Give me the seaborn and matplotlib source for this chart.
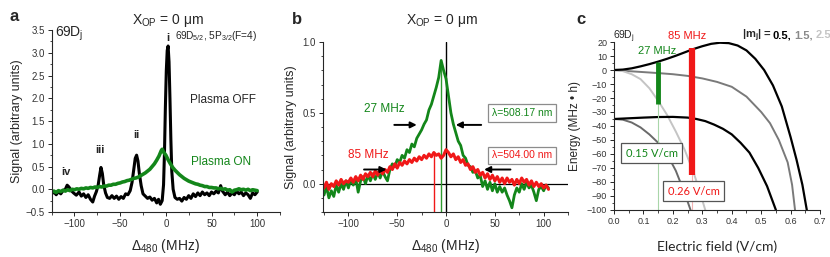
import numpy as np
import pandas as pd
import seaborn as sns
import matplotlib.pyplot as plt
from matplotlib.ticker import MultipleLocator

# ---- panel a: 69Dj spectrum, plasma off / on ----
a_off_x = [-125, -122.5, -120, -117.5, -115, -112.5, -110, -108, -106, -104, -101, -98, -95, -92.5, -90,
           -87.5, -85, -82.5, -80, -78, -76, -74, -72.5, -71, -69.5, -68, -66, -64, -61.5, -59, -56.5,
           -54, -51.5, -49, -46.5, -44, -41.5, -39, -37, -35, -33.5, -32, -30.5, -29, -27, -25, -22.5,
           -20, -17.5, -15, -12.5, -10, -8, -6, -4, -2.5, -1.5, -0.5, 0.5, 1.5, 2.5, 3.5, 4.5, 5.5, 6.5,
           8, 10, 12.5, 15, 17.5, 20, 22.5, 25, 27.5, 30, 32.5, 35, 37.5, 40, 42.5, 45, 47.5, 50, 52.5,
           55, 57.5, 60, 62, 65, 67.5, 70, 72.5, 75, 77.5, 80, 82.5, 85, 87.5, 90, 92.5, 95, 97.5, 100]
a_off_y = [-0.1, -0.06, -0.12, -0.05, -0.1, -0.03, 0.0, 0.09, 0.05, -0.02, -0.08, -0.13, -0.06, -0.15, -0.1,
           -0.18, -0.12, -0.22, -0.28, -0.15, -0.05, 0.1, 0.3, 0.48, 0.35, 0.1, -0.08, -0.18, -0.2, -0.14, -0.2,
           -0.15, -0.22, -0.16, -0.2, -0.1, -0.12, -0.03, 0.15, 0.45, 0.68, 0.75, 0.62, 0.35, 0.08, -0.1, -0.15,
           -0.2, -0.17, -0.24, -0.2, -0.3, -0.22, -0.33, -0.25, 0.1, 0.8, 1.8, 2.6, 3.05, 3.15, 2.8, 2.0, 1.1, 0.4,
           0.0, -0.18, -0.22, -0.2, -0.26, -0.18, -0.22, -0.14, -0.2, -0.1, -0.16, -0.08, -0.14, -0.06, -0.12,
           -0.08, -0.14, -0.06, -0.1, -0.04, -0.08, 0.08, -0.04, -0.12, -0.06, -0.14, -0.08, -0.12, -0.04, -0.1,
           -0.06, -0.14, -0.08, -0.12, -0.2, -0.08, -0.12, -0.06]

a_on_x = [-125, -122.5, -120, -117.5, -115, -112.5, -110, -107.5, -105, -102.5, -100, -97.5, -95, -92.5,
          -90, -87.5, -85, -82.5, -80, -77.5, -75, -72.5, -70, -67.5, -65, -62.5, -60, -57.5, -55, -52.5,
          -50, -47.5, -45, -42.5, -40, -37.5, -35, -32.5, -30, -27.5, -25, -22.5, -20, -17.5, -15, -12.5,
          -10, -7.5, -5, -4, -2.5, 0, 2.5, 5, 7.5, 10, 12.5, 15, 17.5, 20, 22.5, 25, 27.5, 30, 32.5, 35,
          37.5, 40, 42.5, 45, 47.5, 50, 52.5, 55, 57.5, 60, 62.5, 65, 67.5, 70, 72.5, 75, 77.5, 80, 82.5,
          85, 87.5, 90, 92.5, 95, 97.5, 100]
a_on_y = [-0.06, -0.04, -0.07, -0.03, -0.05, -0.02, -0.04, -0.01, -0.03, 0.0, -0.01, 0.01, 0.0, 0.02,
          0.01, 0.03, 0.02, 0.04, 0.03, 0.05, 0.04, 0.06, 0.05, 0.07, 0.07, 0.09, 0.09, 0.11, 0.11, 0.13,
          0.14, 0.16, 0.17, 0.19, 0.2, 0.22, 0.24, 0.25, 0.27, 0.3, 0.33, 0.36, 0.4, 0.44, 0.5, 0.56,
          0.64, 0.73, 0.85, 0.88, 0.82, 0.75, 0.65, 0.56, 0.48, 0.42, 0.37, 0.32, 0.28, 0.24, 0.21, 0.18,
          0.16, 0.14, 0.12, 0.11, 0.09, 0.08, 0.06, 0.06, 0.04, 0.04, 0.03, 0.03, 0.01, 0.02, 0.0, 0.01,
          -0.02, -0.01, -0.06, -0.02, -0.01, 0.01, -0.01, 0.0, -0.02, 0.0, -0.03, -0.01, -0.02, -0.03]

# ---- panel b: plasma-on spectra for two ionisation wavelengths ----
b_x = [-125, -122.5, -120, -117.5, -115, -112.5, -110, -107.5, -105, -102.5, -100, -97.5, -95, -92.5,
       -90, -87.5, -85, -82.5, -80, -77.5, -75, -72.5, -70, -67.5, -65, -62.5, -60, -57.5, -55, -52.5,
       -50, -47.5, -45, -42.5, -40, -37.5, -35, -32.5, -30, -27.5, -25, -22.5, -20, -17.5, -15, -12.5,
       -10, -7.5, -5, -2.5, 0, 2.5, 5, 7.5, 10, 12.5, 15, 17.5, 20, 22.5, 25, 27.5, 30, 32.5, 35, 37.5,
       40, 42.5, 45, 47.5, 50, 52.5, 55, 57.5, 60, 62.5, 65, 67.5, 70, 72.5, 75, 77.5, 80, 82.5, 85,
       87.5, 90, 92.5, 95, 97.5, 100, 102.5, 105]
b_green = [-0.08, -0.02, -0.1, -0.05, -0.09, -0.01, -0.06, 0.0, -0.04, 0.02, -0.03, 0.03, -0.01, 0.04,
           -0.06, 0.02, 0.05, 0.0, 0.06, 0.02, 0.07, 0.03, 0.08, 0.04, 0.09, 0.05, 0.02, 0.1, 0.14, 0.12,
           0.17, 0.15, 0.2, 0.18, 0.24, 0.22, 0.28, 0.26, 0.32, 0.35, 0.38, 0.42, 0.45, 0.52, 0.56, 0.62,
           0.68, 0.75, 0.87, 0.8, 0.74, 0.62, 0.5, 0.42, 0.36, 0.3, 0.27, 0.2, 0.18, 0.13, 0.12, 0.08,
           0.09, 0.04, 0.06, -0.02, 0.02, -0.04, 0.01, -0.05, 0.0, -0.06, -0.02, -0.06, -0.03, -0.08,
           -0.12, -0.17, -0.08, -0.03, -0.06, 0.0, -0.04, 0.01, -0.03, -0.01, -0.06, -0.12, -0.04, -0.02,
           -0.05, -0.01, -0.03]
b_red = [-0.03, 0.01, -0.04, 0.0, -0.02, 0.02, -0.01, 0.03, 0.0, 0.02, 0.01, 0.04, 0.01, 0.05, 0.02,
         0.06, 0.03, 0.07, 0.05, 0.08, 0.05, 0.09, 0.06, 0.1, 0.07, 0.1, 0.08, 0.12, 0.1, 0.14, 0.11,
         0.15, 0.13, 0.16, 0.14, 0.17, 0.15, 0.18, 0.16, 0.19, 0.17, 0.2, 0.18, 0.21, 0.19, 0.22, 0.2,
         0.21, 0.18, 0.2, 0.24, 0.22, 0.19, 0.21, 0.17, 0.19, 0.15, 0.17, 0.13, 0.14, 0.1, 0.12, 0.08,
         0.1, 0.06, 0.08, 0.04, 0.07, 0.03, 0.06, 0.02, 0.05, 0.01, 0.04, 0.0, 0.04, 0.01, 0.03, -0.01,
         0.03, 0.0, 0.04, 0.01, 0.03, -0.01, 0.02, -0.02, 0.01, -0.02, 0.0, -0.03, -0.01, -0.04]
b_centers = [-5.4, -12]          # line centres marked for 27 MHz (green) and 85 MHz (red)
b_center_tops = [0.84, 0.21]

# ---- panel c: Stark map of 69Dj ----
c_05_up_E = [0, 0.03, 0.06, 0.09, 0.12, 0.15, 0.18, 0.21, 0.24, 0.27, 0.3, 0.33, 0.36, 0.39, 0.42,
             0.45, 0.48, 0.51, 0.54, 0.57, 0.6, 0.62, 0.64, 0.655]
c_05_up = [0, 0.3, 1.2, 2.6, 4.2, 6, 8, 10.2, 12.6, 15, 17, 18.7, 19.5, 19.2, 17.5, 14, 8, 0, -11, -26,
           -48, -64, -82, -100]
c_05_lo_E = [0, 0.05, 0.1, 0.15, 0.2, 0.25, 0.28, 0.31, 0.34, 0.37, 0.4, 0.43, 0.46, 0.49, 0.52, 0.55]
c_05_lo = [-35, -34.5, -34, -33.6, -33.5, -34, -35, -36.5, -39, -42, -46, -52, -59, -70, -83, -100]
c_15_up_E = [0, 0.05, 0.1, 0.15, 0.2, 0.25, 0.3, 0.35, 0.4, 0.45, 0.5, 0.53, 0.56, 0.59, 0.605, 0.615]
c_15_up = [0, -0.8, -1.5, -2.2, -3, -4.2, -6, -8.5, -12, -19, -30, -38, -50, -66, -82, -100]
c_15_lo_E = [0, 0.03, 0.06, 0.09, 0.12, 0.15, 0.18, 0.21, 0.24, 0.26]
c_15_lo = [-35, -35.5, -37.5, -41, -46, -52, -60, -72, -88, -100]
c_25_E = [0, 0.03, 0.06, 0.09, 0.12, 0.15, 0.18, 0.21, 0.24, 0.27, 0.29, 0.31]
c_25 = [0, -0.8, -3, -6.5, -13, -22, -32, -44, -57, -73, -86, -100]
c_fields = [0.15, 0.265]
c_bar_lo = [-24, -75]
c_bar_hi = [6, 16]
mj_labels = ["0.5,", "1.5,", "2.5"]
mj_colors = ["black", "#8a8a8a", "#c4c4c4"]

GREEN = "#13861a"
RED = "#f01818"
TICK_COL = "#333333"

sns.set_style("ticks")
plt.rcParams["font.family"] = ["Liberation Sans", "DejaVu Sans"]
plt.rcParams["mathtext.fontset"] = "custom"
plt.rcParams["mathtext.rm"] = "Liberation Sans"
plt.rcParams["mathtext.bf"] = "Liberation Sans:bold"

fig = plt.figure(figsize=(8.3, 2.57), dpi=100)
ax_a = fig.add_axes([0.0622, 0.175, 0.2752, 0.708])
ax_b = fig.add_axes([0.3892, 0.175, 0.2952, 0.6615])
ax_c = fig.add_axes([0.7398, 0.183, 0.2482, 0.6535])


def style_axis(ax):
    for s in ["top", "right"]:
        ax.spines[s].set_visible(False)
    for s in ["left", "bottom"]:
        ax.spines[s].set_linewidth(0.8)
    ax.tick_params(which="major", direction="out", length=3, width=0.7, labelsize=7,
                   labelcolor=TICK_COL, pad=2)
    ax.tick_params(which="minor", direction="out", length=1.8, width=0.6)


# panel a
df_off = pd.DataFrame({"x": a_off_x, "y": a_off_y})
df_on = pd.DataFrame({"x": a_on_x, "y": a_on_y})
sns.lineplot(data=df_off, x="x", y="y", ax=ax_a, color="black", lw=2.2, sort=False, estimator=None)
sns.lineplot(data=df_on, x="x", y="y", ax=ax_a, color=GREEN, lw=2.6, sort=False, estimator=None)
ax_a.set_xlim(-125, 125)
ax_a.set_ylim(-0.5, 3.5)
ax_a.xaxis.set_major_locator(MultipleLocator(50))
ax_a.xaxis.set_minor_locator(MultipleLocator(25))
ax_a.yaxis.set_major_locator(MultipleLocator(0.5))
ax_a.yaxis.set_minor_locator(MultipleLocator(0.25))
ax_a.set_xlabel(r"$\mathregular{\Delta_{480}}$ (MHz)", fontsize=10)
ax_a.set_ylabel("Signal (arbitrary units)", fontsize=9)
ax_a.xaxis.set_label_coords(0.5, -0.135)
ax_a.yaxis.set_label_coords(-0.125, 0.5)
style_axis(ax_a)
ax_a.text(-121, 3.42, r"69D$_\mathregular{j}$", fontsize=10, va="center")
ax_a.text(2, 3.32, "i", fontsize=8, fontweight="bold", ha="center", va="center")
ax_a.text(10, 3.36, r"69D$_\mathregular{5/2}$, 5P$_\mathregular{3/2}$(F=4)", fontsize=7.3, va="center")
ax_a.text(-32, 1.2, "ii", fontsize=8, fontweight="bold", ha="center", va="center")
ax_a.text(-72, 0.86, "iii", fontsize=8, fontweight="bold", ha="center", va="center")
ax_a.text(-109, 0.38, "iv", fontsize=8, fontweight="bold", ha="center", va="center")
ax_a.text(26, 1.96, "Plasma OFF", fontsize=8.5, va="center")
ax_a.text(28, 0.6, "Plasma ON", fontsize=8.5, va="center", color=GREEN)

# panel b
df_b = pd.DataFrame({"x": b_x, "green": b_green, "red": b_red})
ax_b.axhline(0, color="black", lw=0.9)
for xc, top, col in zip(b_centers, b_center_tops, ["#2f9a2f", RED]):
    ax_b.plot([xc, xc], [-0.2, top], color=col, lw=1.0)
ax_b.axvline(0, color="black", lw=1.0)
sns.lineplot(data=df_b, x="x", y="green", ax=ax_b, color=GREEN, lw=2.0, sort=False, estimator=None)
sns.lineplot(data=df_b, x="x", y="red", ax=ax_b, color=RED, lw=2.2, sort=False, estimator=None)
ax_b.set_xlim(-126, 125)
ax_b.set_ylim(-0.2, 1.0)
ax_b.xaxis.set_major_locator(MultipleLocator(50))
ax_b.xaxis.set_minor_locator(MultipleLocator(25))
ax_b.yaxis.set_major_locator(MultipleLocator(0.5))
ax_b.yaxis.set_minor_locator(MultipleLocator(0.1))
ax_b.set_xlabel(r"$\mathregular{\Delta_{480}}$ (MHz)", fontsize=10)
ax_b.set_ylabel("Signal (arbitrary units)", fontsize=9)
ax_b.xaxis.set_label_coords(0.5, -0.147)
ax_b.yaxis.set_label_coords(-0.105, 0.5)
style_axis(ax_b)
arrow = dict(arrowstyle="-|>", color="black", lw=1.4, mutation_scale=9, shrinkA=0, shrinkB=0)
ax_b.annotate("", xy=(-30, 0.415), xytext=(-53, 0.415), arrowprops=arrow)
ax_b.annotate("", xy=(10, 0.415), xytext=(36, 0.415), arrowprops=arrow)
ax_b.annotate("", xy=(-61, 0.1), xytext=(-84, 0.1), arrowprops=arrow)
ax_b.annotate("", xy=(39, 0.1), xytext=(66, 0.1), arrowprops=arrow)
ax_b.text(-63, 0.53, "27 MHz", fontsize=8.5, color=GREEN, ha="center", va="center")
ax_b.text(-80, 0.2, "85 MHz", fontsize=8.5, color=RED, ha="center", va="center")
box = dict(boxstyle="square,pad=0.35", fc="white", ec="#8c8c8c", lw=0.9)
ax_b.text(78, 0.5, "λ=508.17 nm", fontsize=7.5, color=GREEN, ha="center", va="center", bbox=box)
ax_b.text(78, 0.2, "λ=504.00 nm", fontsize=7.5, color=RED, ha="center", va="center", bbox=box)

# panel c
curves = [(c_15_up_E, c_15_up, "#7a7a7a", 1.4), (c_15_lo_E, c_15_lo, "#6a6a6a", 1.4),
          (c_25_E, c_25, "#c4c4c4", 1.4), (c_05_up_E, c_05_up, "black", 1.6),
          (c_05_lo_E, c_05_lo, "black", 1.6)]
for E, en, col, lw in curves:
    sns.lineplot(x=E, y=en, ax=ax_c, color=col, lw=lw, sort=False, estimator=None)
thin_cols = ["#a9d6a9", "#f3b3b3"]
bar_cols = [GREEN, RED]
bar_lw = [3.5, 4.5]
for f, lo, hi, tc, bc, lw in zip(c_fields, c_bar_lo, c_bar_hi, thin_cols, bar_cols, bar_lw):
    ax_c.plot([f, f], [-100, lo], color=tc, lw=0.8)
    ax_c.plot([f, f], [lo, hi], color=bc, lw=lw, solid_capstyle="butt")
ax_c.set_xlim(0, 0.7)
ax_c.set_ylim(-100, 20)
ax_c.xaxis.set_major_locator(MultipleLocator(0.1))
ax_c.xaxis.set_minor_locator(MultipleLocator(0.05))
ax_c.yaxis.set_major_locator(MultipleLocator(10))
ax_c.yaxis.set_minor_locator(MultipleLocator(5))
ax_c.xaxis.set_major_formatter(plt.FuncFormatter(lambda v, p: f"{v:.1f}"))
ax_c.set_xlabel("Electric field (V/cm)", fontsize=10, family=["Lato", "DejaVu Sans"])
ax_c.set_ylabel("Energy (MHz • h)", fontsize=8.5)
ax_c.xaxis.set_label_coords(0.5, -0.18)
ax_c.yaxis.set_label_coords(-0.16, 0.5)
style_axis(ax_c)
ax_c.tick_params(labelsize=6.5)
ax_c.text(-0.005, 24, r"69D$_\mathregular{j}$", fontsize=7.5, va="center", clip_on=False)
ax_c.text(0.145, 13.5, "27 MHz", fontsize=8, color=GREEN, ha="center", va="center")
ax_c.text(0.25, 24, "85 MHz", fontsize=8, color=RED, ha="center", va="center", clip_on=False)
box_c = dict(boxstyle="square,pad=0.4", fc="white", ec="#555555", lw=0.9)
ax_c.text(0.128, -59.5, "0.15 V/cm", fontsize=8, color=GREEN, ha="center", va="center", bbox=box_c,
          family=["Lato", "DejaVu Sans"])
ax_c.text(0.27, -86.5, "0.26 V/cm", fontsize=8, color=RED, ha="center", va="center", bbox=box_c,
          family=["Lato", "DejaVu Sans"])

# |mj| legend: pieces placed one after another on a common baseline
fig.canvas.draw()
renderer = fig.canvas.get_renderer()
x_px, y_px = 742, 257 - 38
piece = fig.text(x_px / 830, y_px / 257, r"|m$_\mathbf{j}$| = ", fontsize=8, fontweight="bold",
                 va="baseline")
x_px = piece.get_window_extent(renderer).x1
for lab, col in zip(mj_labels, mj_colors):
    piece = fig.text(x_px / 830, y_px / 257, lab, fontsize=8, fontweight="bold", color=col,
                     va="baseline")
    x_px = piece.get_window_extent(renderer).x1 + 3

# panel letters and titles
fig.text(0.012, 0.935, "a", fontsize=12, fontweight="bold", va="center")
fig.text(0.352, 0.925, "b", fontsize=12, fontweight="bold", va="center")
fig.text(0.694, 0.925, "c", fontsize=12, fontweight="bold", va="center")
fig.text(0.202, 0.92, r"X$_\mathregular{OP}$ = 0 μm", fontsize=10, ha="center", va="center")
fig.text(0.533, 0.92, r"X$_\mathregular{OP}$ = 0 μm", fontsize=10, ha="center", va="center")

fig.savefig("out.png", dpi=100)
